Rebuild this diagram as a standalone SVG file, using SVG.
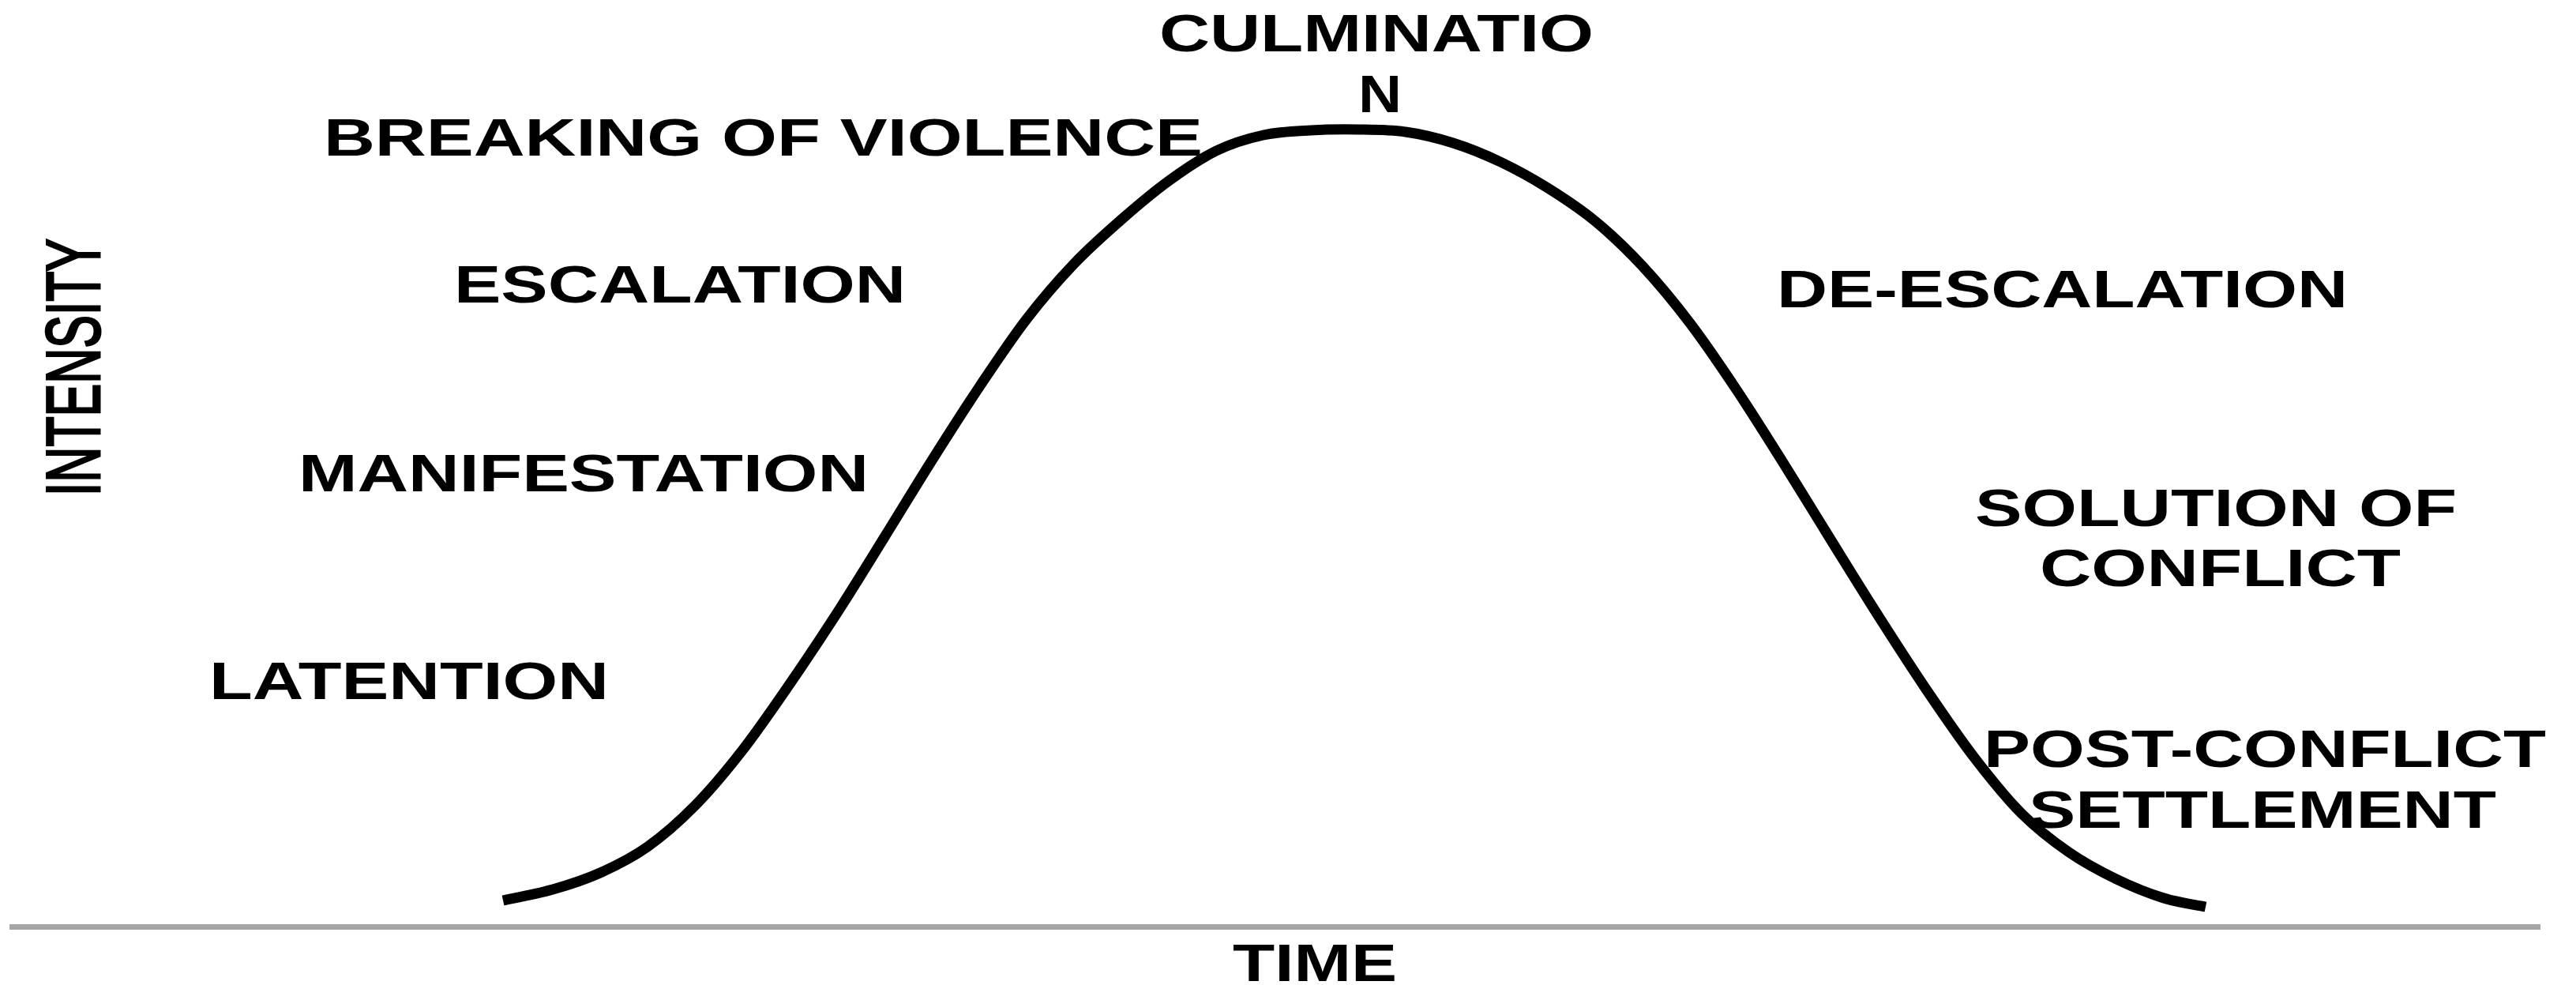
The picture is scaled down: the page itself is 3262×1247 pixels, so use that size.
<svg xmlns="http://www.w3.org/2000/svg" width="3262" height="1247" viewBox="0 0 3262 1247">
<style>
.lbl{font-family:"Liberation Sans",Arial,sans-serif;font-weight:bold;font-size:66px;fill:#000}
.ax{font-family:"Liberation Sans",Arial,sans-serif;font-weight:normal;font-size:96px;fill:#000;stroke:#000;stroke-width:3}
</style>
<rect x="0" y="0" width="3262" height="1247" fill="#ffffff"/>
<g id="connectors">
<line id="time-axis" x1="12" y1="1173.5" x2="3217" y2="1173.5" stroke="#a6a6a6" stroke-width="7"/>
<path id="conflict-curve" d="M637,1140 C647.5,1137.7 679.5,1131.8 700,1126 S740,1114 760,1105 S800,1086.2 820,1072 S860,1040.3 880,1020 S920,975.7 940,950 S980,895 1000,866 S1040,807 1060,776 S1100,712.2 1120,680 S1160,614.7 1180,583 S1220,519.8 1240,490 S1280,430 1300,404 S1340,355 1360,334 S1400,295.5 1420,278 S1460,243.5 1480,229 S1520,200.7 1540,191 S1580,175.3 1600,171 S1640,166.2 1660,165 S1700,163.7 1720,164 S1760,164.2 1780,167 S1820,174.7 1840,181 S1880,195.5 1900,205 S1940,225.5 1960,238 S2000,263.5 2020,280 S2060,315.5 2080,337 S2120,382.7 2140,409 S2180,465 2200,495 S2240,557.2 2260,589 S2300,653.8 2320,686 S2360,750.7 2380,782 S2420,844.5 2440,874 S2480,933 2500,959 S2540,1010 2560,1030 S2600,1065.2 2620,1079 S2660,1103.3 2680,1113 S2721.2,1131.2 2740,1137 S2784.2,1146.2 2793,1148" fill="none" stroke="#000" stroke-width="13" stroke-linecap="butt" stroke-linejoin="round"/>
</g>
<g id="culmination"><text class="lbl" x="1468" y="65" textLength="550" lengthAdjust="spacingAndGlyphs">CULMINATIO</text><text class="lbl" x="1720" y="142" textLength="55" lengthAdjust="spacingAndGlyphs">N</text></g>
<g id="breaking"><text class="lbl" x="410" y="197" textLength="1113" lengthAdjust="spacingAndGlyphs">BREAKING OF VIOLENCE</text></g>
<g id="escalation"><text class="lbl" x="575" y="383" textLength="572" lengthAdjust="spacingAndGlyphs">ESCALATION</text></g>
<g id="manifestation"><text class="lbl" x="378" y="622" textLength="722" lengthAdjust="spacingAndGlyphs">MANIFESTATION</text></g>
<g id="latention"><text class="lbl" x="265" y="885" textLength="506" lengthAdjust="spacingAndGlyphs">LATENTION</text></g>
<g id="de-escalation"><text class="lbl" x="2250" y="389" textLength="723" lengthAdjust="spacingAndGlyphs">DE-ESCALATION</text></g>
<g id="solution"><text class="lbl" x="2501" y="666" textLength="610" lengthAdjust="spacingAndGlyphs">SOLUTION OF</text><text class="lbl" x="2583" y="742" textLength="457" lengthAdjust="spacingAndGlyphs">CONFLICT</text></g>
<g id="post-conflict"><text class="lbl" x="2512" y="971" textLength="712" lengthAdjust="spacingAndGlyphs">POST-CONFLICT</text><text class="lbl" x="2569" y="1048" textLength="592" lengthAdjust="spacingAndGlyphs">SETTLEMENT</text></g>
<g id="intensity-label"><text class="ax" transform="translate(126,628) rotate(-90)" x="0" y="0" textLength="326" lengthAdjust="spacingAndGlyphs">INTENSITY</text></g>
<g id="time-label"><text class="lbl" x="1561" y="1242" textLength="208" lengthAdjust="spacingAndGlyphs">TIME</text></g>
</svg>
